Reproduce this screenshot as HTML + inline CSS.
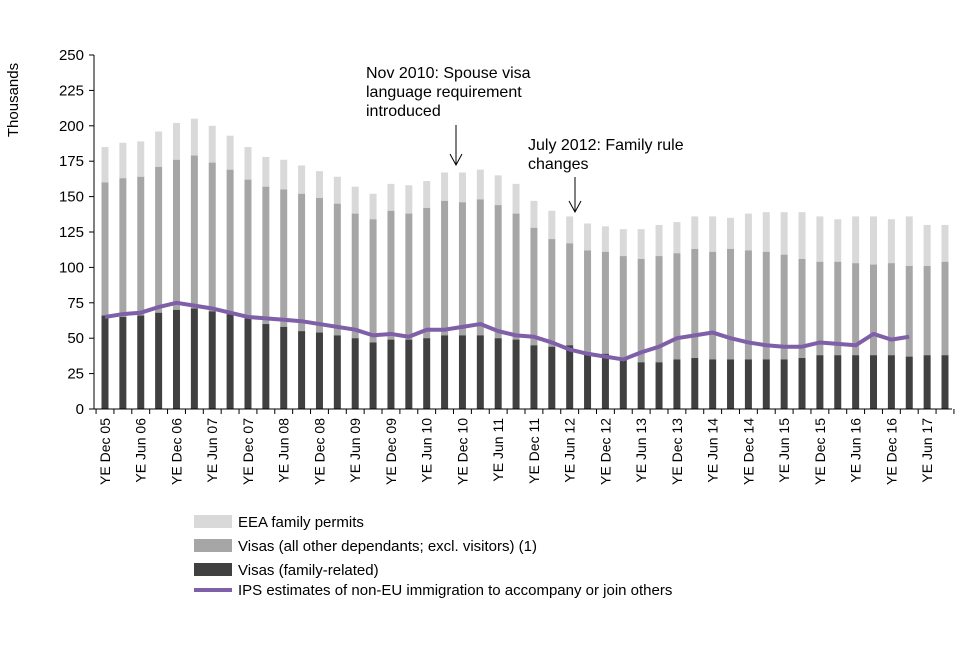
<!DOCTYPE html>
<html><head><meta charset="utf-8"><style>
body{margin:0;background:#fff;}
svg text{font-family:"Liberation Sans",Arial,sans-serif;fill:#000;}
</style></head><body>
<svg id="chart" width="960" height="640" viewBox="0 0 960 640" xmlns="http://www.w3.org/2000/svg">
<g id="grid"></g>
<g id="bars"></g>
<g id="line"></g>
<g id="axes"></g>
<text transform="translate(18,100) rotate(-90)" text-anchor="middle" font-size="15">Thousands</text>
<g>
<text x="366" y="78" font-size="16">Nov 2010: Spouse visa</text>
<text x="366" y="97" font-size="16">language requirement</text>
<text x="366" y="116" font-size="16">introduced</text>
<line x1="456" y1="125" x2="456" y2="165" stroke="#000" stroke-width="1"/>
<polyline points="450,154 456,165 462,154" fill="none" stroke="#000" stroke-width="1"/>
</g>
<g>
<text x="528" y="150" font-size="16">July 2012: Family rule</text>
<text x="528" y="169" font-size="16">changes</text>
<line x1="575" y1="177" x2="575" y2="212" stroke="#000" stroke-width="1"/>
<polyline points="569,201 575,212 581,201" fill="none" stroke="#000" stroke-width="1"/>
</g>
<g>
<rect x="194" y="515" width="38" height="13" fill="#d9d9d9"/>
<text x="238" y="527" font-size="15">EEA family permits</text>
<rect x="194" y="539" width="38" height="13" fill="#a6a6a6"/>
<text x="238" y="551" font-size="15">Visas (all other dependants; excl. visitors) (1)</text>
<rect x="194" y="563" width="38" height="13" fill="#404040"/>
<text x="238" y="575" font-size="15">Visas (family-related)</text>
<line x1="194" y1="590" x2="232" y2="590" stroke="#7f5fa8" stroke-width="4"/>
<text x="238" y="595" font-size="15">IPS estimates of non-EU immigration to accompany or join others</text>
</g>
</svg>
<script>
const categories = ["YE Dec 05","YE Mar 06","YE Jun 06","YE Sep 06","YE Dec 06","YE Mar 07","YE Jun 07","YE Sep 07","YE Dec 07","YE Mar 08","YE Jun 08","YE Sep 08","YE Dec 08","YE Mar 09","YE Jun 09","YE Sep 09","YE Dec 09","YE Mar 10","YE Jun 10","YE Sep 10","YE Dec 10","YE Mar 11","YE Jun 11","YE Sep 11","YE Dec 11","YE Mar 12","YE Jun 12","YE Sep 12","YE Dec 12","YE Mar 13","YE Jun 13","YE Sep 13","YE Dec 13","YE Mar 14","YE Jun 14","YE Sep 14","YE Dec 14","YE Mar 15","YE Jun 15","YE Sep 15","YE Dec 15","YE Mar 16","YE Jun 16","YE Sep 16","YE Dec 16","YE Mar 17","YE Jun 17","YE Sep 17"];
const familyVisas = [66,65,66,68,70,71,69,67,64,60,58,55,54,52,50,47,49,49,50,52,52,52,50,49,45,44,45,40,39,36,33,33,35,36,35,35,35,35,35,36,38,38,38,38,38,37,38,38];
const totalVisas = [160,163,164,171,176,179,174,169,162,157,155,152,149,145,138,134,140,138,142,147,146,148,144,138,128,120,117,112,111,108,106,108,110,113,111,113,112,111,109,106,104,104,103,102,103,101,101,104];
const totalAll = [185,188,189,196,202,205,200,193,185,178,176,172,168,164,157,152,159,158,161,167,167,169,165,159,147,140,136,131,129,127,127,130,132,136,136,135,138,139,139,139,136,134,136,136,134,136,130,130];
const ipsValues = [65,67,68,72,75,73,71,68,65,64,63,62,60,58,56,52,53,51,56,56,58,60,55,52,51,47,42,39,37,35,40,44,50,52,54,50,47,45,44,44,47,46,45,53,49,51,null,null];
const yTicks = [0,25,50,75,100,125,150,175,200,225,250];

const NS="http://www.w3.org/2000/svg";
const x0=105, step=(945-105)/47, y0=409, yScale=354/250;
const xPos=i=>x0+i*step;
const yPos=v=>y0-v*yScale;
function mk(tag,attrs,parent){const e=document.createElementNS(NS,tag);for(const k in attrs)e.setAttribute(k,attrs[k]);parent.appendChild(e);return e;}
const bars=document.getElementById('bars'), axes=document.getElementById('axes'), lineG=document.getElementById('line');
const bw=7;
categories.forEach((c,i)=>{
  const x=xPos(i)-bw/2;
  const r1=mk('rect',{x:x,y:yPos(totalAll[i]),width:bw,height:yPos(totalVisas[i])-yPos(totalAll[i]),fill:'#d9d9d9'},bars);
  
  
  const r2=mk('rect',{x:x,y:yPos(totalVisas[i]),width:bw,height:yPos(familyVisas[i])-yPos(totalVisas[i]),fill:'#a6a6a6'},bars);
  
  
  const r3=mk('rect',{x:x,y:yPos(familyVisas[i]),width:bw,height:y0-yPos(familyVisas[i]),fill:'#404040'},bars);
  
  
  if(i%2===0){
    const t=mk('text',{transform:`translate(${xPos(i)+5},418) rotate(-90)`,'text-anchor':'end','font-size':'14'},axes);
    t.textContent=c;
    
    
  }
});
let pts=[];
ipsValues.forEach((v,i)=>{if(v!==null)pts.push(xPos(i)+','+yPos(v));});
const pl=mk('polyline',{points:pts.join(' '),fill:'none',stroke:'#7f5fa8','stroke-width':4,'stroke-linejoin':'round'},lineG);


const ya=mk('line',{x1:94,y1:yPos(250),x2:94,y2:y0,stroke:'#000'},axes);


const xa=mk('line',{x1:94,y1:y0,x2:952,y2:y0,stroke:'#000'},axes);


yTicks.forEach(v=>{
  mk('line',{x1:89,y1:yPos(v),x2:94,y2:yPos(v),stroke:'#000'},axes);
  const t=mk('text',{x:84,y:yPos(v)+5,'text-anchor':'end','font-size':'15'},axes);
  t.textContent=v;
  
  
});
for(let i=0;i<=categories.length;i+=1){
  const xt=xPos(i)-step/2;
  mk('line',{x1:xt,y1:y0,x2:xt,y2:y0+5,stroke:'#000'},axes);
}
</script>
</body></html>
